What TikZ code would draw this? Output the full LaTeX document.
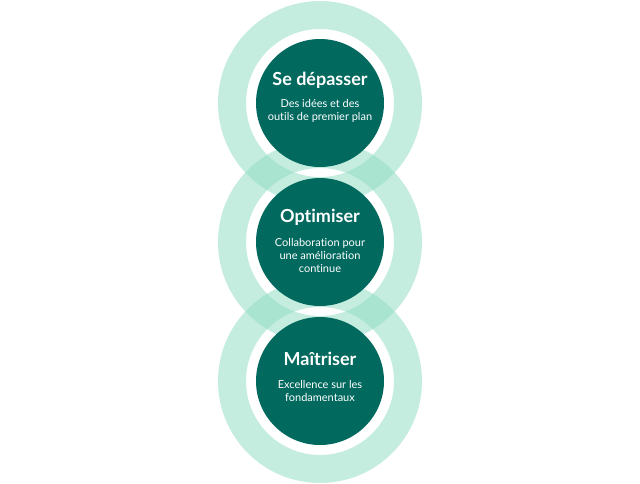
\documentclass[tikz,border=0pt]{standalone}
\usepackage{fontspec}
\setmainfont{Lato}[Ligatures=NoCommon]
\definecolor{darkteal}{HTML}{02695F}
\definecolor{mint}{HTML}{8FDCC2}
\begin{document}
\begin{tikzpicture}[x=1pt,y=-1pt,
  ring/.style={fill=mint, fill opacity=0.52, even odd rule},
  core/.style={circle, fill=darkteal, minimum size=128pt, inner sep=0pt},
  ttl/.style={text=white, font=\fontsize{18}{20}\selectfont\bfseries, inner sep=0pt},
  sub/.style={text=white, font=\fontsize{11}{13}\selectfont, align=center, inner sep=0pt}]
\useasboundingbox (0,0) rectangle (640,483);
\coordinate (c1) at (320,103);
\coordinate (c2) at (320,242);
\coordinate (c3) at (320,381);
\fill[ring] (c1) circle[radius=102] (c1) circle[radius=74];
\fill[ring] (c2) circle[radius=102] (c2) circle[radius=74];
\fill[ring] (c3) circle[radius=102] (c3) circle[radius=74];
\node[core] (k1) at (c1) {};
\node[core] (k2) at (c2) {};
\node[core] (k3) at (c3) {};
\node[ttl] (t1) at (320,80) {Se dépasser};
\node[sub] (s1) at (320,110.5) {Des idées et des\\outils de premier plan};
\node[ttl] (t2) at (320,217) {Optimiser};
\node[sub] (s2) at (320,255) {Collaboration pour\\une amélioration\\continue};
\node[ttl] (t3) at (320,359) {Maîtriser};
\node[sub] (s3) at (320,390.5) {Excellence sur les\\fondamentaux};
\end{tikzpicture}
\end{document}
